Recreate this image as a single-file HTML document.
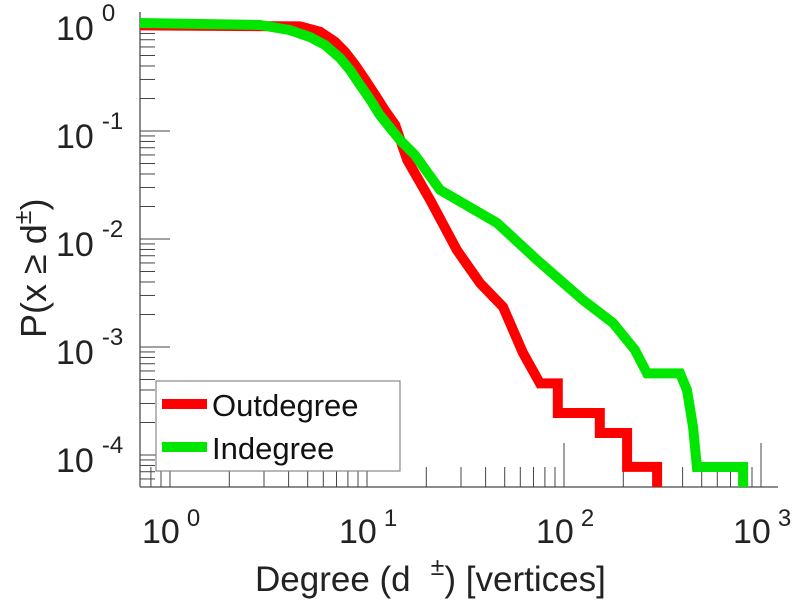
<!DOCTYPE html>
<html><head><meta charset="utf-8"><style>
html,body{margin:0;padding:0;background:#fff;}
svg{display:block;font-family:"Liberation Sans",sans-serif;}
</style></head><body>
<svg id="chart" width="792" height="600" viewBox="0 0 792 600">
<defs><clipPath id="plotclip"><rect x="140" y="0" width="652" height="487"/></clipPath></defs>
<g id="axes"></g>
<g id="series" clip-path="url(#plotclip)"></g>
<g>
<rect x="156" y="381" width="244" height="90" fill="#fff" stroke="#888" stroke-width="1.2"/>
<line x1="162" y1="404" x2="207" y2="404" stroke="#ff0000" stroke-width="10"/>
<text x="212" y="416" font-size="31" fill="#111">Outdegree</text>
<line x1="162" y1="447" x2="207" y2="447" stroke="#00e600" stroke-width="10"/>
<text x="212" y="459" font-size="31" fill="#111">Indegree</text>
</g>
<text x="255" y="591" font-size="35" fill="#222">Degree (d<tspan dx="20" dy="-16" font-size="25">±</tspan><tspan dy="16">) [vertices]</tspan></text>
<text transform="translate(46,338) rotate(-90)" font-size="36" fill="#222">P(x ≥ d<tspan dy="-15" font-size="25">±</tspan><tspan dy="15">)</tspan></text>
</svg>
<script>
const xTicks = [1, 10, 100, 1000];
const xTickExp = ["0", "1", "2", "3"];
const yTicks = [1, 0.1, 0.01, 0.001, 0.0001];
const yTickExp = ["0", "-1", "-2", "-3", "-4"];
const outX = [0.7,4.57,5.77,6.88,7.73,8.69,9.77,11.0,12.3,13.9,16.0,20.9,28.6,37.5,49,61.9,75.5,93,93,152,152,209,209,297,297];
const outY = [0.95,0.93,0.83,0.67,0.54,0.41,0.30,0.215,0.156,0.114,0.054,0.023,0.0079,0.0039,0.00235,0.00088,0.00046,0.00046,0.000245,0.000245,0.00016,0.00016,0.0000776,0.0000776,0.00003];
const inX = [0.7,2.86,4.06,5.14,6.12,7.29,8.2,9.21,10.4,11.6,13.1,14.7,17.5,23.5,45.7,72.9,125,177,229,264,388,421,452,473,811,811];
const inY = [1.0,0.958,0.86,0.74,0.625,0.474,0.367,0.267,0.194,0.141,0.107,0.0826,0.06,0.0284,0.0141,0.0064,0.00272,0.00167,0.00094,0.00057,0.00057,0.0004,0.00018,0.0000774,0.0000774,0.00003];

const NS = "http://www.w3.org/2000/svg";
const X0 = 170, XDEC = 197, Y0 = 23, YDEC = 108;
function sx(v){ return X0 + XDEC * Math.log10(v); }
function sy(v){ return Y0 - YDEC * Math.log10(v); }
function mk(tag, attrs, parent){
  const e = document.createElementNS(NS, tag);
  for (const k in attrs) e.setAttribute(k, attrs[k]);
  parent.appendChild(e);
  return e;
}
const axes = document.getElementById("axes");
const series = document.getElementById("series");
const L = 140, B = 487, R = 778, T = 12;
const xAxis = mk("line", {x1:L, y1:B, x2:R, y2:B, stroke:"#666", "stroke-width":1.5}, axes);


const yAxis = mk("line", {x1:L, y1:T, x2:L, y2:B, stroke:"#666", "stroke-width":1.5}, axes);


for (let d = -1; d <= 3; d++) {
  for (let m = 1; m <= 9; m++) {
    const v = m * Math.pow(10, d);
    const px = sx(v);
    if (px < L || px > R) continue;
    const len = m === 1 ? 44 : 20;
    const t = mk("line", {x1:px, y1:B, x2:px, y2:B - len, stroke:"#444", "stroke-width":1}, axes);
    
    
  }
}
xTicks.forEach((v, i) => {
  const px = sx(v);
  const t = mk("text", {x:px - 28, y:543, "font-size":34, fill:"#222"}, axes);
  
  
  t.textContent = "10";
  const e = mk("tspan", {dx:7, dy:-17, "font-size":24}, t);
  e.textContent = xTickExp[i];
});
for (let d = -5; d <= 0; d++) {
  for (let m = 1; m <= 9; m++) {
    const v = m * Math.pow(10, d);
    const py = sy(v);
    if (py > B || py < T) continue;
    const len = m === 1 ? 30 : 15;
    const t = mk("line", {x1:L, y1:py, x2:L + len, y2:py, stroke:"#444", "stroke-width":1}, axes);
    
    
  }
}
yTicks.forEach((v, i) => {
  const py = sy(v);
  const t = mk("text", {x:56, y:py + 17, "font-size":34, fill:"#222"}, axes);
  
  
  t.textContent = "10";
  const e = mk("tspan", {dx:8, dy:-19, "font-size":24}, t);
  e.textContent = yTickExp[i];
});
function drawLine(xs, ys, color, name){
  const pts = xs.map((x, i) => sx(x).toFixed(1) + "," + sy(ys[i]).toFixed(1)).join(" ");
  const p = mk("polyline", {points:pts, fill:"none", stroke:color, "stroke-width":10, "stroke-linejoin":"miter", "stroke-linecap":"butt"}, series);
  
  
}
drawLine(outX, outY, "#ff0000", "outdegree-line");
drawLine(inX, inY, "#00e600", "indegree-line");
</script>
</body></html>
